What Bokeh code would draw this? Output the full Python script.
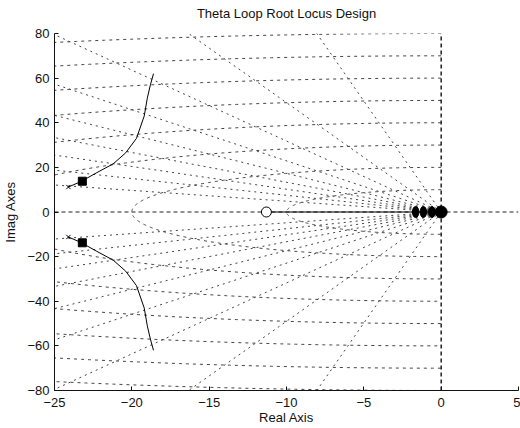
import numpy as np
from bokeh.plotting import figure
from bokeh.models import Range1d, FixedTicker, Title
from bokeh.embed import file_html
from bokeh.resources import INLINE

# ---- data ----
zeta_vals = [0.1, 0.2, 0.3, 0.4, 0.5, 0.6, 0.7, 0.8, 0.9]
wn_vals = [10, 20, 30, 40, 50, 60, 70, 80]
locus_re = [-24.1, -23.3, -22.3, -21.2, -20.4, -19.7, -19.2, -19.0, -18.8, -18.6]
locus_im = [11.2, 13.6, 17.5, 21.6, 26.5, 33.0, 43.0, 51.0, 57.0, 62.0]
ol_pole_re = [-24.1, -24.1]
ol_pole_im = [11.2, -11.2]
cl_pole_re = [-23.2, -23.2]
cl_pole_im = [13.8, -13.8]
origin_poles_re = [-1.65, -1.15, -0.6]
origin_poles_im = [0, 0, 0]
zero_re = [-11.3]
zero_im = [0]
x_ticks = [-25, -20, -15, -10, -5, 0, 5]
y_ticks = [-80, -60, -40, -20, 0, 20, 40, 60, 80]
title_text = "Theta Loop Root Locus Design"

FONT = "Liberation Sans"

p = figure(width=520, height=428, output_backend="svg", toolbar_location=None,
           x_range=Range1d(-25, 5), y_range=Range1d(-80, 80),
           min_border_left=53, min_border_right=2, min_border_top=33, min_border_bottom=38)
p.outline_line_color = None
p.xgrid.visible = False
p.ygrid.visible = False
p.background_fill_color = "white"
p.border_fill_color = "white"

# spacer title (closest to frame) then main title
p.add_layout(Title(text=" ", text_font_size="10px", standoff=0), "above")
p.add_layout(Title(text=title_text, align="center", text_font=FONT, text_font_size="13px",
                   text_font_style="normal", text_color="#111111", standoff=0), "above")

for ax in (p.xaxis[0], p.yaxis[0]):
    ax.major_label_text_font = FONT
    ax.major_label_text_font_size = "13px"
    ax.major_label_text_color = "#111111"
    ax.axis_label_text_font = FONT
    ax.axis_label_text_font_size = "13px"
    ax.axis_label_text_font_style = "normal"
    ax.axis_label_text_color = "#111111"
    ax.major_tick_in = 4
    ax.major_tick_out = 0
    ax.minor_tick_in = 0
    ax.minor_tick_out = 0
    ax.axis_line_color = "#111111"
    ax.major_tick_line_color = "#111111"
p.xaxis[0].ticker = FixedTicker(ticks=x_ticks)
p.yaxis[0].ticker = FixedTicker(ticks=y_ticks)
p.xaxis[0].axis_label = "Real Axis"
p.yaxis[0].axis_label = "Imag Axes"
p.xaxis[0].major_label_standoff = 7
p.xaxis[0].axis_label_standoff = 0
p.yaxis[0].major_label_standoff = 5
p.yaxis[0].axis_label_standoff = 6

# ---- s-grid: constant damping lines ----
R = 200.0
zx, zy = [], []
for z in zeta_vals:
    s = np.sqrt(1 - z * z)
    zx.append([0, -R * z]); zy.append([0, R * s])
    zx.append([0, -R * z]); zy.append([0, -R * s])
p.multi_line(zx, zy, line_color="#444444", line_dash="2 4", line_width=1)

# ---- s-grid: constant natural-frequency arcs ----
th = np.linspace(np.pi / 2, 3 * np.pi / 2, 400)
cx, cy = [], []
for w in wn_vals:
    cx.append(list(w * np.cos(th)))
    cy.append(list(w * np.sin(th)))
p.multi_line(cx, cy, line_color="#444444", line_dash="3 4", line_width=1)

# imaginary axis and real axis dashed
p.line([0, 0], [-80, 80], line_color="#111111", line_dash="4 3", line_width=1.4)
p.line([-25, 5], [0, 0], line_color="#222222", line_dash="4 3", line_width=1)

# ---- root locus ----
p.line(locus_re, locus_im, line_color="black", line_width=1)
p.line(locus_re, [-v for v in locus_im], line_color="black", line_width=1)
p.line([zero_re[0], 0], [0, 0], line_color="black", line_width=1.2)

p.scatter(ol_pole_re, ol_pole_im, marker="x", size=6, line_color="black", line_width=1)
p.scatter(cl_pole_re, cl_pole_im, marker="square", size=8, fill_color="black", line_color="black")
p.ellipse(origin_poles_re, origin_poles_im, width=0.42, height=5.0, fill_color="black", line_color="black")
p.scatter([0], [0], marker="circle", size=12, fill_color="black", line_color="black")
p.scatter(zero_re, zero_im, marker="circle", size=10, fill_color="white", line_color="black", line_width=1)

open("out.html", "w").write(file_html(p, INLINE))
